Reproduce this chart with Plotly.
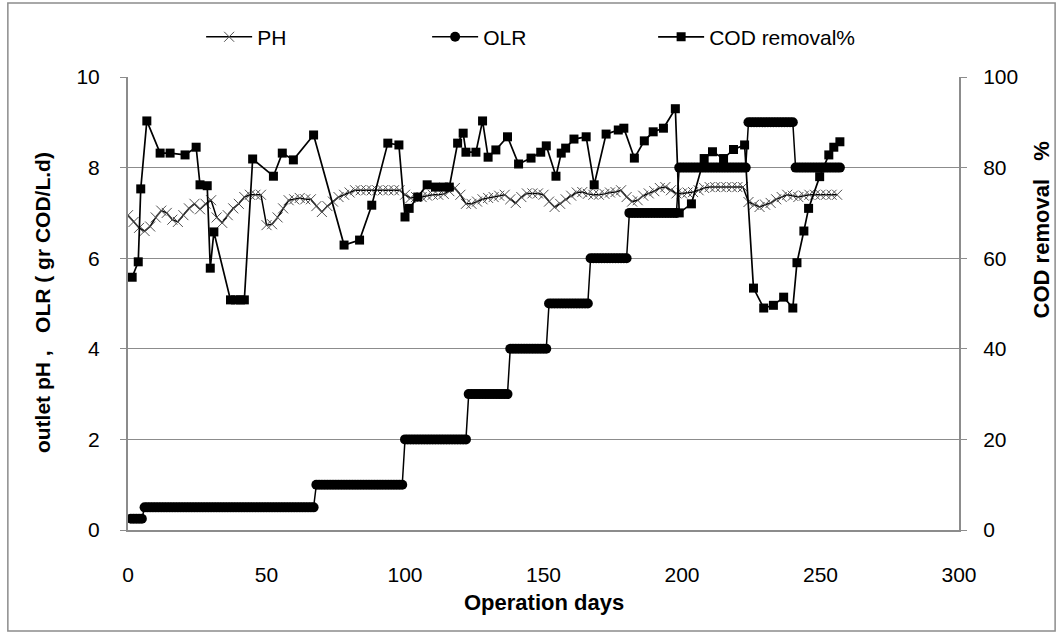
import plotly.graph_objects as go

# ---------------- data ----------------
# pH (every 2 days)
ph_days = list(range(0, 258, 2))
ph_values = [
    6.95, 6.80, 6.67, 6.60, 6.70, 6.90, 7.05, 7.00, 6.85, 6.80,
    6.95, 7.10, 7.20, 7.08, 7.20, 7.28, 6.90, 6.78, 6.95, 7.10,
    7.20, 7.35, 7.40, 7.40, 7.40, 6.73, 6.75, 6.90, 7.10, 7.28,
    7.30, 7.33, 7.30, 7.30, 7.15, 7.02, 7.15, 7.25, 7.35, 7.40,
    7.45, 7.50, 7.50, 7.50, 7.50, 7.50, 7.50, 7.50, 7.50, 7.50,
    7.40, 7.33, 7.35, 7.35, 7.38, 7.40, 7.40, 7.42, 7.48, 7.55,
    7.40, 7.20, 7.20, 7.25, 7.30, 7.33, 7.35, 7.38, 7.40, 7.30,
    7.22, 7.35, 7.43, 7.43, 7.43, 7.40, 7.25, 7.13, 7.20, 7.30,
    7.38, 7.45, 7.46, 7.42, 7.40, 7.40, 7.42, 7.45, 7.46, 7.50,
    7.35, 7.25, 7.28, 7.38, 7.43, 7.48, 7.55, 7.57, 7.50, 7.43,
    7.43, 7.45, 7.46, 7.50, 7.55, 7.57, 7.57, 7.57, 7.57, 7.57,
    7.57, 7.57, 7.24, 7.18, 7.13, 7.18, 7.22, 7.30, 7.35, 7.40,
    7.38, 7.35, 7.38, 7.40, 7.40, 7.40, 7.40, 7.40, 7.40,
]

# OLR: constant loading periods (first day, last day, g COD/L.d)
olr_start = [1, 6, 68, 100, 123, 138, 152, 167, 181, 199, 224, 241]
olr_end = [5, 67, 99, 122, 137, 151, 166, 180, 198, 223, 240, 257]
olr_level = [0.25, 0.5, 1, 2, 3, 4, 5, 6, 7, 8, 9, 8]

# COD removal %
cod_days = [1.5, 3.7, 4.6, 6.8, 11.6, 15.2, 20.6, 24.6, 26.0, 28.6, 29.7, 31.0,
            37.0, 38.8, 40.6, 42.0, 45.0, 52.5, 55.7, 59.7, 67.0, 78.0, 83.6,
            88.0, 93.8, 97.8, 100.0, 101.5, 104.6, 108.0, 111.0, 114.0, 116.0,
            119.0, 121.0, 122.0, 125.6, 128.0, 130.0, 132.8, 137.0, 141.0,
            145.5, 149.0, 151.0, 154.5, 156.4, 158.0, 161.0, 165.4, 168.3,
            172.6, 177.0, 179.0, 182.8, 186.4, 189.6, 193.3, 197.6, 199.0,
            203.4, 208.0, 211.0, 215.0, 218.6, 222.6, 225.8, 229.5, 233.0,
            236.7, 240.0, 241.5, 244.0, 245.7, 249.7, 253.0, 254.8, 257.0]
cod_values = [55.8, 59.2, 75.3, 90.3, 83.2, 83.2, 82.8, 84.5, 76.2, 76.0, 57.8, 65.8,
              50.8, 50.8, 50.8, 50.8, 81.9, 78.1, 83.2, 81.7, 87.2, 62.9, 64.0,
              71.7, 85.4, 85.0, 69.1, 71.0, 73.5, 76.2, 75.7, 75.7, 75.7,
              85.4, 87.6, 83.4, 83.4, 90.3, 82.3, 83.9, 86.8, 80.8,
              82.1, 83.4, 84.8, 78.1, 83.2, 84.3, 86.3, 86.8, 76.2,
              87.4, 88.3, 88.7, 82.1, 85.9, 87.9, 88.7, 93.0, 70.0,
              72.0, 82.0, 83.5, 82.0, 84.0, 85.0, 53.4, 49.0, 49.6,
              51.4, 49.0, 59.0, 66.0, 71.0, 78.0, 82.8, 84.5, 85.7]

x_ticks = [0, 50, 100, 150, 200, 250, 300]

# ---------------- build ----------------
olr_days, olr_values = [], []
for s, e, v in zip(olr_start, olr_end, olr_level):
    for d in range(s, e + 1):
        olr_days.append(d)
        olr_values.append(v)

FONT = "Liberation Sans, Arial, sans-serif"
GRID = "#8c8c8c"
FS = 21

fig = go.Figure()
fig.add_trace(go.Scatter(
    x=ph_days, y=ph_values, name="PH", mode="lines+markers",
    line=dict(color="black", width=1.5),
    marker=dict(symbol="x-thin-open", size=10, color="#505050",
                line=dict(width=1, color="#505050")),
))
fig.add_trace(go.Scatter(
    x=olr_days, y=olr_values, name="OLR", mode="lines+markers",
    line=dict(color="black", width=1.5),
    marker=dict(symbol="circle", size=10, color="black"),
))
fig.add_trace(go.Scatter(
    x=cod_days, y=cod_values, name="COD removal%", mode="lines+markers",
    yaxis="y2",
    line=dict(color="black", width=1.7),
    marker=dict(symbol="square", size=9, color="black"),
))

fig.update_layout(
    width=1061, height=636,
    paper_bgcolor="white", plot_bgcolor="white",
    margin=dict(l=128, r=102, t=77, b=106),
    font=dict(family=FONT, size=FS, color="black"),
    showlegend=True,
    legend=dict(orientation="h", x=0.088, xanchor="left", y=1.088, yanchor="middle",
                itemwidth=46, entrywidth=165, entrywidthmode="pixels",
                font=dict(family=FONT, size=FS), bgcolor="rgba(0,0,0,0)"),
    xaxis=dict(range=[0, 300], tickvals=x_ticks, showgrid=False, zeroline=False,
               showline=True, linecolor=GRID, linewidth=2, ticks="",
               automargin=False, ticklabelstandoff=25, tickfont=dict(size=FS)),
    yaxis=dict(range=[0, 10], dtick=2, showgrid=True, gridcolor=GRID, gridwidth=1,
               zeroline=False, showline=True, linecolor=GRID, linewidth=2,
               ticks="outside", ticklen=6, tickcolor=GRID, automargin=False,
               ticklabelstandoff=16, tickfont=dict(size=FS)),
    yaxis2=dict(range=[0, 100], dtick=20, overlaying="y", side="right",
                showgrid=False, zeroline=False, showline=True, linecolor=GRID,
                linewidth=2, ticks="outside", ticklen=6, tickcolor=GRID,
                automargin=False, ticklabelstandoff=12, tickfont=dict(size=FS)),
)

fig.add_annotation(text="<b>Operation days</b>", xref="paper", yref="paper",
                   x=0.5, y=-0.161, showarrow=False, font=dict(size=22),
                   xanchor="center", yanchor="middle")
fig.add_annotation(text="<b>outlet pH ,   OLR ( gr COD/L.d)</b>", xref="paper", yref="paper",
                   x=-0.1036, y=0.503, textangle=-90, showarrow=False,
                   font=dict(size=21), xanchor="center", yanchor="middle")
fig.add_annotation(text="<b>COD removal   %</b>", xref="paper", yref="paper",
                   x=1.099, y=0.662, textangle=-90, showarrow=False,
                   font=dict(size=22), xanchor="center", yanchor="middle")

# outer chart-area border
fig.add_shape(type="rect", xref="paper", yref="paper",
              x0=(8 - 128) / 830, x1=(1054 - 128) / 830,
              y0=(530 - 631) / 453, y1=(530 - 3) / 453,
              line=dict(color=GRID, width=1.5), fillcolor="rgba(0,0,0,0)", layer="below")

fig.write_html("out.html", config={"displayModeBar": False},
               post_script="document.body.style.margin='0';document.body.style.overflow='hidden';")
